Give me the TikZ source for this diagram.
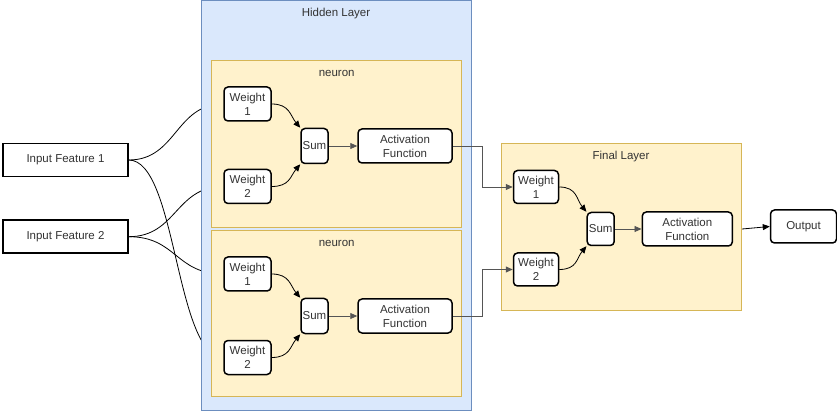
\documentclass[tikz,border=0pt]{standalone}
\usepackage{fontspec}
\setmainfont{Liberation Sans}
\usetikzlibrary{arrows.meta}

\pgfdeclarelayer{edges}
\pgfdeclarelayer{boxes}
\pgfsetlayers{edges,boxes,main}

\definecolor{hidfill}{HTML}{DAE8FC}
\definecolor{hidline}{HTML}{6C8EBF}
\definecolor{neufill}{HTML}{FFF2CC}
\definecolor{neuline}{HTML}{D6B656}
\definecolor{txtgray}{HTML}{333333}
\definecolor{linkgray}{HTML}{555555}

\begin{document}
\begin{tikzpicture}[x=1pt, y=-1pt, font=\fontsize{11.5}{14}\selectfont, text=txtgray,
    unit/.style={draw=black, line width=1.5pt, rounded corners=4pt, fill=white,
        align=center, inner sep=0pt, minimum height=34pt},
    inbox/.style={draw=black, line width=1.5pt, fill=white,
        minimum width=125pt, minimum height=33pt},
    hidbox/.style={draw=hidline, fill=hidfill, line width=0.8pt, inner sep=0pt},
    neubox/.style={draw=neuline, fill=neufill, line width=0.8pt, inner sep=0pt},
    arr/.style={-{Triangle[length=7pt,width=6pt]}, line width=0.8pt, draw=black},
    link/.style={arr, draw=linkgray},
    wire/.style={line width=0.8pt, draw=black}]
    \useasboundingbox (0,0) rectangle (837,411);

    % layer boxes
    \begin{pgfonlayer}{boxes}
    \node[hidbox, minimum width=270.5pt, minimum height=409.5pt] (hidden) at (336.2,205.2) {};
    \node[neubox, minimum width=250pt, minimum height=167pt] (neu1) at (336.7,143.5) {};
    \node[neubox, minimum width=250pt, minimum height=166pt] (neu2) at (336.7,313.7) {};
    \node[neubox, minimum width=240pt, minimum height=166.7pt] (final) at (621.7,226.7) {};
    \end{pgfonlayer}

    % box titles
    \node (hidtitle) at (336,14) {Hidden Layer};
    \node (neu1title) at (336.7,73) {neuron};
    \node (neu2title) at (336.7,243.7) {neuron};
    \node (finaltitle) at (621,156.7) {Final Layer};

    % inputs
    \node[inbox] (in1) at (65.5,160) {Input Feature 1};
    \node[inbox] (in2) at (65.5,236.7) {Input Feature 2};

    % first neuron
    \node[unit, minimum width=47pt] (a1w1) at (247.5,104) {Weight\\1};
    \node[unit, minimum width=47pt] (a1w2) at (247.5,186.5) {Weight\\2};
    \node[unit, minimum width=27pt, minimum height=35pt] (a1sum) at (314.5,146) {Sum};
    \node[unit, minimum width=94pt] (a1act) at (405,146) {Activation\\Function};

    % second neuron
    \node[unit, minimum width=47pt] (a2w1) at (247.5,274) {Weight\\1};
    \node[unit, minimum width=47pt] (a2w2) at (247.5,357.5) {Weight\\2};
    \node[unit, minimum width=27pt, minimum height=35pt] (a2sum) at (314.5,316) {Sum};
    \node[unit, minimum width=94pt] (a2act) at (405,316) {Activation\\Function};

    % final neuron
    \node[unit, minimum width=45pt, minimum height=33pt] (fw1) at (536,187) {Weight\\1};
    \node[unit, minimum width=45pt, minimum height=33pt] (fw2) at (536,269.5) {Weight\\2};
    \node[unit, minimum width=27pt, minimum height=33pt] (fsum) at (600.7,229) {Sum};
    \node[unit, minimum width=90pt] (fact) at (687.3,229) {Activation\\Function};

    % output
    \node[unit, minimum width=66pt, minimum height=33pt] (out) at (803.5,226.5) {Output};

    % input wires, running under the layer boxes
    \begin{pgfonlayer}{edges}
    \draw[wire] (in1.east) .. controls +(48,0) and +(-48,0) .. (a1w1.west);
    \draw[wire] (in1.east) .. controls +(48,0) and +(-48,0) .. (a2w2.west);
    \draw[wire] (in2.east) .. controls +(48,0) and +(-48,0) .. (a1w2.west);
    \draw[wire] (in2.east) .. controls +(48,0) and +(-48,0) .. (a2w1.west);
    \end{pgfonlayer}

    % weights into sums
    \draw[arr] (a1w1.east) .. controls +(18,0) and +(-10,-12) .. (a1sum.north west);
    \draw[arr] (a1w2.east) .. controls +(18,0) and +(-10,12) .. (a1sum.south west);
    \draw[arr] (a2w1.east) .. controls +(18,0) and +(-10,-12) .. (a2sum.north west);
    \draw[arr] (a2w2.east) .. controls +(18,0) and +(-10,12) .. (a2sum.south west);
    \draw[arr] (fw1.east) .. controls +(18,0) and +(-10,-12) .. (fsum.north west);
    \draw[arr] (fw2.east) .. controls +(18,0) and +(-10,12) .. (fsum.south west);

    % sums into activations
    \draw[link] (a1sum) -- (a1act);
    \draw[link] (a2sum) -- (a2act);
    \draw[link] (fsum) -- (fact);

    % hidden layer into final layer
    \coordinate (bus) at (482.7,0);
    \draw[link] (a1act.east) -- (a1act.east -| bus) |- (fw1.west);
    \draw[link] (a2act.east) -- (a2act.east -| bus) |- (fw2.west);

    % final layer to output
    \draw[arr] (final.east |- fact.east) -- (out.west);
\end{tikzpicture}
\end{document}
